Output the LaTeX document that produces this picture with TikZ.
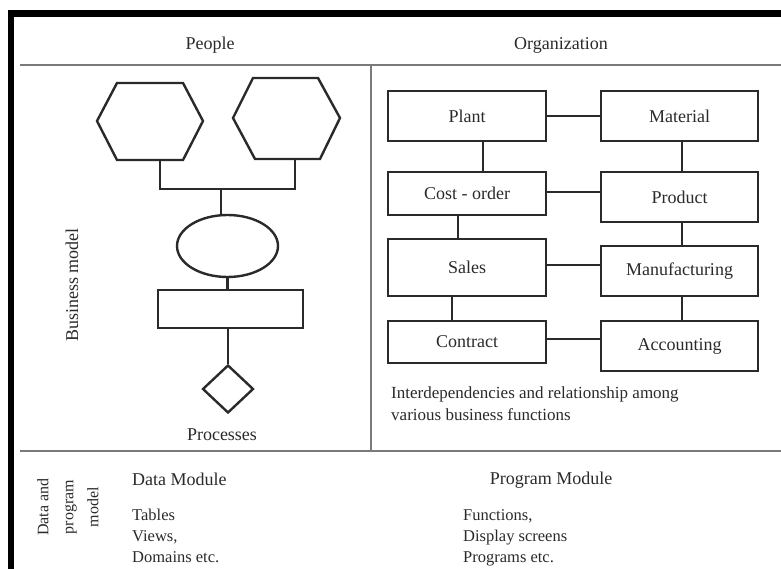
\documentclass[tikz,border=0pt]{standalone}
\usepackage{fontspec}
\setmainfont{Liberation Serif}
\usetikzlibrary{shapes.geometric}
\definecolor{ink}{HTML}{2A2A2A}
\definecolor{sep}{HTML}{7A7A7A}
\tikzset{
  fbox/.style={draw=ink, line width=2.4pt, rectangle, inner sep=0pt, font=\fontsize{18}{20}\selectfont, text=ink},
  link/.style={draw=ink, line width=2.1pt},
  shp/.style={draw=ink, line width=2.4pt, inner sep=0pt},
  sepline/.style={draw=sep, line width=1.4pt},
  lab/.style={font=\fontsize{18}{20}\selectfont, text=ink, inner sep=0pt},
  small/.style={font=\fontsize{16.5}{21}\selectfont, text=ink, inner sep=0pt, align=left}
}
\begin{document}
\begin{tikzpicture}[x=1pt,y=-1pt]
\useasboundingbox (0,0) rectangle (781,569);
% frame
\fill[black] (8,10) rectangle (781,17);
\fill[black] (8,10) rectangle (14,569);
% separators
\draw[sepline] (20,65) -- (781,65);
\draw[sepline] (371,65) -- (371,451);
\draw[sepline] (20,451) -- (781,451);
% headings
\node[lab] (people) at (210,45) {People};
\node[lab] (org) at (561,45) {Organization};
\node[lab, rotate=90] (bm) at (72,285) {Business model};
% hexagons
\draw[shp, line join=miter] (97,121) -- (117,83) -- (183,83) -- (203,121) -- (183,160) -- (117,160) -- cycle;
\draw[shp, line join=miter] (233,118) -- (253,78) -- (318,78) -- (340,118) -- (320,159) -- (255,159) -- cycle;
\coordinate (h1b) at (160,160);
\coordinate (h2b) at (295,159);
\coordinate (j1) at (160,189);
\coordinate (j2) at (295,189);
\coordinate (jm) at (221,189);
% other shapes
\node[shp, ellipse, minimum width=101pt, minimum height=62pt] (ell) at (227.5,246) {};
\node[shp, rectangle, minimum width=145pt, minimum height=38pt] (rct) at (230.5,309) {};
\node[shp, diamond, minimum width=51pt, minimum height=48pt] (dia) at (228,389) {};
\node[lab] (proc) at (222,435) {Processes};
\draw[link] (h1b) -- (j1) -- (j2) -- (h2b);
\draw[link] (jm) -- (jm |- ell.north);
\draw[link] (ell.south) -- (ell.south |- rct.north);
\draw[link] (rct.south -| dia.north) -- (dia.north);
% organization boxes
\node[fbox, minimum width=158pt, minimum height=50pt] (plant) at (467,116) {Plant};
\node[fbox, minimum width=157pt, minimum height=50pt] (mat) at (679.5,116) {Material};
\node[fbox, minimum width=158pt, minimum height=43pt] (cost) at (467,193.5) {Cost - order};
\node[fbox, minimum width=157pt, minimum height=50pt] (prod) at (679.5,197) {Product};
\node[fbox, minimum width=158pt, minimum height=57pt] (sales) at (467,267.5) {Sales};
\node[fbox, minimum width=157pt, minimum height=50pt] (manu) at (679.5,271) {Manufacturing};
\node[fbox, minimum width=158pt, minimum height=42pt] (contr) at (467,342) {Contract};
\node[fbox, minimum width=157pt, minimum height=50pt] (acct) at (679.5,346) {Accounting};
\draw[link] (plant.east) -- (mat.west);
\draw[link] ([yshift=1.5pt]cost.east) -- ([yshift=1.5pt]cost.east -| prod.west);
\draw[link] ([yshift=2.5pt]sales.east) -- ([yshift=2.5pt]sales.east -| manu.west);
\draw[link] ([yshift=3pt]contr.east) -- ([yshift=3pt]contr.east -| acct.west);
\draw[link] ([xshift=16pt]plant.south) -- ([xshift=16pt]plant.south |- cost.north);
\draw[link] ([xshift=-9pt]cost.south) -- ([xshift=-9pt]cost.south |- sales.north);
\draw[link] ([xshift=-15pt]sales.south) -- ([xshift=-15pt]sales.south |- contr.north);
\draw[link] ([xshift=2.5pt]mat.south) -- ([xshift=2.5pt]mat.south |- prod.north);
\draw[link] ([xshift=2.5pt]prod.south) -- ([xshift=2.5pt]prod.south |- manu.north);
\draw[link] ([xshift=2.5pt]manu.south) -- ([xshift=2.5pt]manu.south |- acct.north);
\node[small, font=\fontsize{17}{22}\selectfont, anchor=north west] (cap) at (391,387) {Interdependencies and relationship among\\various business functions};
% bottom section
\node[small, rotate=90, align=center, font=\fontsize{16}{25}\selectfont] (dpm) at (68,507) {Data and\\program\\model};
\node[lab, anchor=west] (dm) at (132,479) {Data Module};
\node[small, anchor=north west] (dml) at (132,509) {Tables\\Views,\\Domains etc.};
\node[lab] (pm) at (551,480) {Program Module};
\node[small, anchor=north west] (pml) at (463,509) {Functions,\\Display screens\\Programs etc.};
\end{tikzpicture}
\end{document}
